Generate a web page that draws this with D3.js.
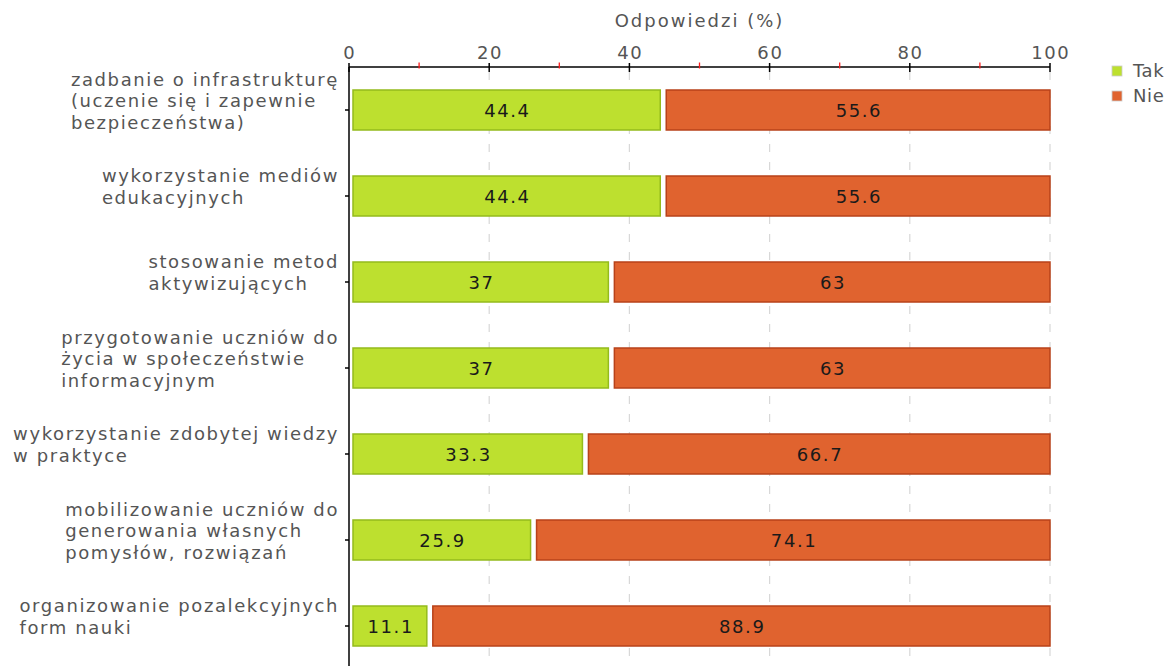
<!DOCTYPE html>
<html><head><meta charset="utf-8">
<script src="https://cdn.jsdelivr.net/npm/d3@7"></script>
<style>
body{margin:0;background:#fff;}
text{font-family:"DejaVu Sans",sans-serif;}
</style></head>
<body><svg id="c" width="1169" height="666"></svg>
<script>
const categories = [
  ["zadbanie o infrastrukturę","(uczenie się i zapewnie","bezpieczeństwa)"],
  ["wykorzystanie mediów","edukacyjnych"],
  ["stosowanie metod","aktywizujących"],
  ["przygotowanie uczniów do","życia w społeczeństwie","informacyjnym"],
  ["wykorzystanie zdobytej wiedzy","w praktyce"],
  ["mobilizowanie uczniów do","generowania własnych","pomysłów, rozwiązań"],
  ["organizowanie pozalekcyjnych","form nauki"]
];
const tak = [44.4, 44.4, 37, 37, 33.3, 25.9, 11.1];
const nie = [55.6, 55.6, 63, 63, 66.7, 74.1, 88.9];
const seriesNames = ["Tak","Nie"];
const xTicks = [0,20,40,60,80,100];
const minorTicks = [10,30,50,70,90];
const axisTitle = "Odpowiedzi (%)";

(function(){
const colors = {Tak:{fill:"#bde02f",stroke:"#94bb1c"}, Nie:{fill:"#e0632f",stroke:"#b8421a"}};
const svg = d3.select("#c");
const mLeft = 349, mRight = 1050, mTop = 67, mBottom = 669;
const FS = 18, LS = 1.6;
const x = d3.scaleLinear().domain([0,100]).range([mLeft,mRight]);
const y = d3.scaleBand().domain(d3.range(categories.length)).range([mTop,mBottom]);

// gridlines
svg.append("g").selectAll("line").data(xTicks.filter(d=>d>0)).join("line")
  .attr("x1",d=>x(d)).attr("x2",d=>x(d)).attr("y1",mTop+5).attr("y2",666)
  .attr("stroke","#d8d8d8").attr("stroke-width",1.2).attr("stroke-dasharray","8,10");

// bars
const rows = categories.map((c,i)=>({i, segs:[
  {name:"Tak", x0:0, x1:tak[i], v:tak[i], off:4},
  {name:"Nie", x0:tak[i], x1:tak[i]+nie[i], v:nie[i], off:6}
]}));
const bh = 40;
const g = svg.append("g");
rows.forEach(r=>{
  const cy = y(r.i)+y.bandwidth()/2;
  r.segs.forEach(s=>{
    g.append("rect").attr("x",x(s.x0)+s.off).attr("y",cy-bh/2)
      .attr("width",x(s.x1)-x(s.x0)-s.off).attr("height",bh)
      .attr("fill",colors[s.name].fill).attr("stroke",colors[s.name].stroke).attr("stroke-width",1.5);
    g.append("text").attr("x",(x(s.x0)+s.off+x(s.x1))/2+LS/2).attr("y",cy+6.5)
      .attr("text-anchor","middle").attr("font-size",FS).attr("letter-spacing",LS)
      .attr("fill","#1a1a1a").text(s.v);
  });
});

// top axis
const ax = svg.append("g");
ax.append("line").attr("x1",mLeft).attr("x2",mRight).attr("y1",mTop).attr("y2",mTop).attr("stroke","#000").attr("stroke-width",1.5);
ax.selectAll(".maj").data(xTicks).join("line").attr("class","maj")
  .attr("x1",d=>x(d)).attr("x2",d=>x(d)).attr("y1",mTop-4).attr("y2",mTop+5).attr("stroke","#000").attr("stroke-width",1.5);
ax.selectAll(".min").data(minorTicks).join("line").attr("class","min")
  .attr("x1",d=>x(d)).attr("x2",d=>x(d)).attr("y1",mTop-4.5).attr("y2",mTop+1.5).attr("stroke","#ff1a1a").attr("stroke-width",1.3);
ax.selectAll(".tl").data(xTicks).join("text").attr("class","tl")
  .attr("x",d=>x(d)+LS/2).attr("y",mTop-8).attr("text-anchor","middle")
  .attr("font-size",FS).attr("letter-spacing",LS).attr("fill","#555").text(d=>d);
svg.append("text").attr("x",(mLeft+mRight)/2).attr("y",27).attr("text-anchor","middle")
  .attr("font-size",FS).attr("letter-spacing",LS+0.4).attr("fill","#555").text(axisTitle);

// left axis
svg.append("line").attr("x1",mLeft).attr("x2",mLeft).attr("y1",mTop).attr("y2",666).attr("stroke","#000").attr("stroke-width",1.5);
svg.append("g").selectAll("line").data(d3.range(categories.length)).join("line")
  .attr("x1",mLeft-4).attr("x2",mLeft).attr("y1",i=>y(i)+y.bandwidth()/2).attr("y2",i=>y(i)+y.bandwidth()/2)
  .attr("stroke","#000").attr("stroke-width",1.5);

// category labels
const lh = 21.5;
categories.forEach((lines,i)=>{
  const cy = y(i)+y.bandwidth()/2 - 9;
  const t = svg.append("text").attr("font-size",FS).attr("letter-spacing",LS).attr("fill","#555");
  const n = lines.length;
  const spans = lines.map((l,k)=>t.append("tspan").attr("y",cy-(n-1)*lh/2+k*lh+6).attr("x",0).text(l));
  const w = d3.max(spans.map(s=>s.node().getComputedTextLength()));
  spans.forEach(s=>s.attr("x",339-w));
});

// legend
seriesNames.forEach((nm,k)=>{
  const ly = 71+k*25;
  svg.append("rect").attr("x",1112).attr("y",ly-5).attr("width",10).attr("height",10)
    .attr("fill",colors[nm].fill).attr("stroke","#ccc").attr("stroke-width",0.8);
  svg.append("text").attr("x",1133).attr("y",ly+6).attr("font-size",FS).attr("letter-spacing",LS-1)
    .attr("fill","#555").text(nm);
});
})();
</script></body></html>
